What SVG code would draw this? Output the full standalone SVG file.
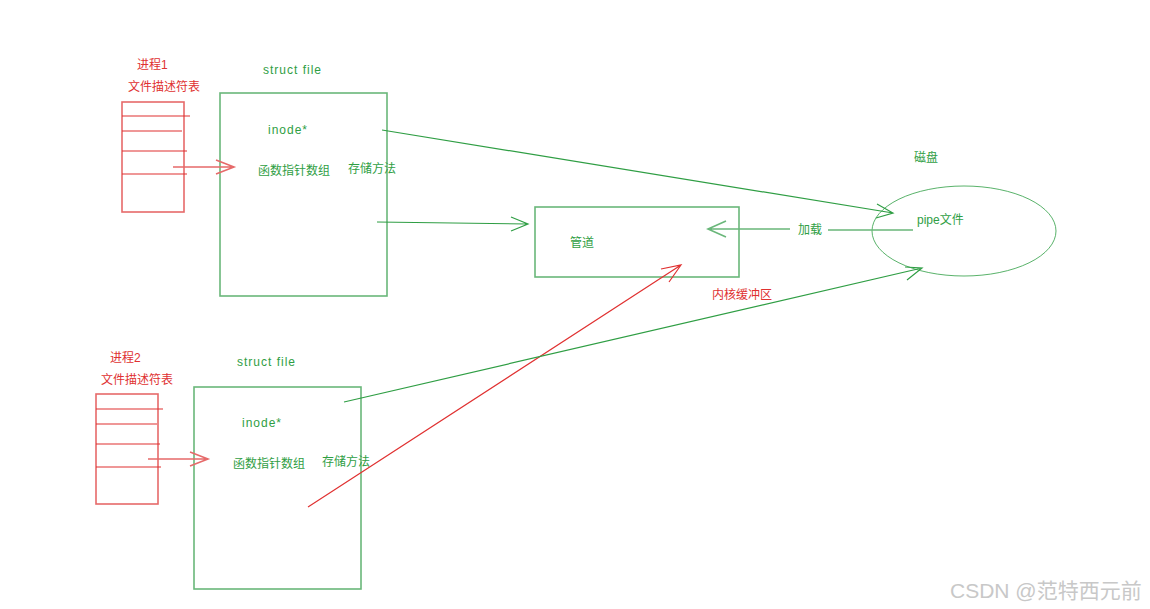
<svg xmlns="http://www.w3.org/2000/svg" width="1150" height="609" viewBox="0 0 1150 609">
<style>
.g{stroke:#2f9e44;fill:none;stroke-width:1.2}
.gb{stroke:#6ab77a;fill:none;stroke-width:1.6}
.r{stroke:#e03131;fill:none;stroke-width:1.2}
.rb{stroke:#e66a6a;fill:none;stroke-width:1.6}
text{font-family:"Liberation Sans","Noto Sans CJK SC",sans-serif;font-size:12px}
.en{font-size:12px;letter-spacing:1px}
.tg{fill:#2f9e44}
.tr{fill:#e03131}
.wm{fill:#c8c8c8;font-size:21px}
</style>
<rect width="1150" height="609" fill="#fff"/>
<g id="proc1">
<text class="tr" x="137" y="69">进程1</text>
<text class="tr" x="128" y="91">文件描述符表</text>
<rect class="rb" x="122" y="102" width="62" height="110"/>
<path class="r" d="M122 116H190M122 131H182M122 151H187M122 174H187"/>
</g>
<g id="file1">
<text class="tg en" x="263" y="74">struct file</text>
<rect class="gb" x="220" y="93" width="167" height="203"/>
<text class="tg en" x="268" y="134">inode*</text>
<text class="tg" x="258" y="175">函数指针数组</text>
<text class="tg" x="348" y="173">存储方法</text>
</g>
<g id="proc2">
<text class="tr" x="110" y="362">进程2</text>
<text class="tr" x="101" y="384">文件描述符表</text>
<rect class="rb" x="96" y="394" width="62" height="110"/>
<path class="r" d="M96 409H163M96 424H157M96 444H160M96 467H161"/>
</g>
<g id="file2">
<text class="tg en" x="237" y="366">struct file</text>
<rect class="gb" x="194" y="387" width="167" height="202"/>
<text class="tg en" x="242" y="427">inode*</text>
<text class="tg" x="233" y="468">函数指针数组</text>
<text class="tg" x="322" y="466">存储方法</text>
</g>
<g id="pipe">
<rect class="gb" x="535" y="207" width="204" height="70"/>
<text class="tg" x="570" y="247">管道</text>
<text class="tr" x="712" y="299">内核缓冲区</text>
</g>
<g id="disk">
<text class="tg" x="914" y="162">磁盘</text>
<ellipse cx="964" cy="231" rx="92" ry="45" stroke="#2f9e44" fill="none" stroke-width="0.8"/>
<text class="tg" x="917" y="224">pipe文件</text>
</g>
<g id="connectors">
<path class="rb" d="M173 167H234M216 160L234 167L216 174"/>
<path class="rb" d="M148 459H208M190 452L208 459L190 466"/>
<path class="g" d="M382 130L893 213M877 204L893 213L876 218"/>
<path class="g" d="M377 222L528 224M511 217L528 224L511 231"/>
<path class="gb" d="M913 230H828M790 229H708M726 221L708 229L726 237"/>
<text class="tg" x="798" y="234">加载</text>
<path class="r" d="M308 507L681 265M661 269L681 265L669 282"/>
<path class="g" d="M344 402L922 268M905 267L922 268L907 280"/>
</g>
<text class="wm" x="950" y="598">CSDN @范特西元前</text>
</svg>
